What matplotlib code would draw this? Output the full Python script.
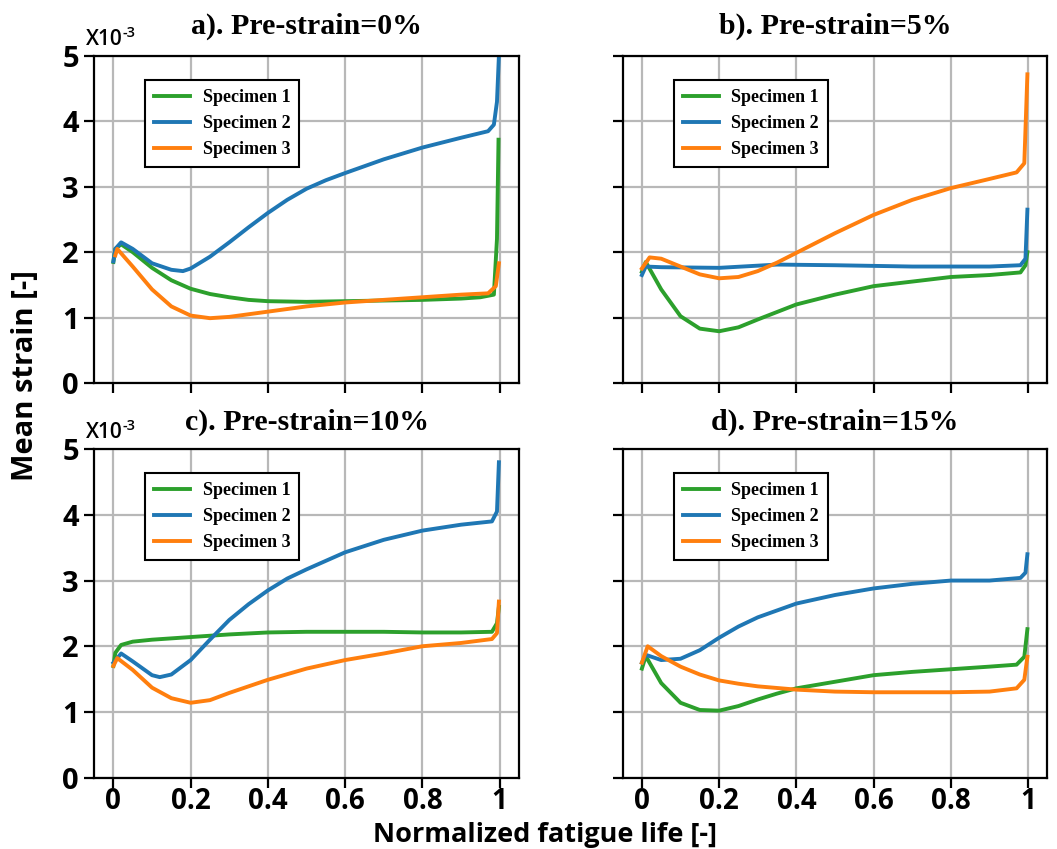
import numpy as np
import matplotlib
matplotlib.use('Agg')
import matplotlib.pyplot as plt

## values (mean strain in units of 1e-3)

# a). Pre-strain=0%
a_x1 = [0, 0.005, 0.02, 0.05, 0.1, 0.15, 0.2, 0.25, 0.3, 0.35, 0.4, 0.5, 0.6, 0.7, 0.8, 0.9, 0.95, 0.985, 0.993, 0.997]
a_y1 = [1.85, 2.05, 2.12, 2.0, 1.76, 1.57, 1.44, 1.36, 1.31, 1.27, 1.25, 1.24, 1.25, 1.26, 1.27, 1.29, 1.31, 1.35, 2.2, 3.72]
a_x2 = [0, 0.005, 0.02, 0.05, 0.1, 0.15, 0.18, 0.2, 0.25, 0.3, 0.35, 0.4, 0.45, 0.5, 0.55, 0.6, 0.7, 0.8, 0.9, 0.97, 0.985, 0.993, 0.998]
a_y2 = [1.86, 2.05, 2.15, 2.05, 1.83, 1.73, 1.71, 1.75, 1.93, 2.15, 2.38, 2.6, 2.8, 2.97, 3.1, 3.21, 3.42, 3.6, 3.75, 3.85, 3.95, 4.3, 5.0]
a_x3 = [0.005, 0.01, 0.05, 0.1, 0.15, 0.2, 0.25, 0.3, 0.4, 0.5, 0.6, 0.7, 0.8, 0.9, 0.97, 0.99, 0.998]
a_y3 = [1.95, 2.05, 1.78, 1.43, 1.17, 1.03, 0.99, 1.01, 1.09, 1.17, 1.23, 1.27, 1.31, 1.35, 1.37, 1.48, 1.83]

# b). Pre-strain=5%
b_x1 = [0, 0.01, 0.05, 0.1, 0.15, 0.2, 0.25, 0.3, 0.4, 0.5, 0.6, 0.7, 0.8, 0.9, 0.98, 0.993, 0.998]
b_y1 = [1.7, 1.85, 1.43, 1.02, 0.83, 0.79, 0.85, 0.97, 1.2, 1.35, 1.48, 1.55, 1.62, 1.65, 1.69, 1.8, 2.0]
b_x2 = [0, 0.01, 0.05, 0.2, 0.35, 0.5, 0.7, 0.9, 0.98, 0.993, 0.998]
b_y2 = [1.65, 1.78, 1.77, 1.76, 1.81, 1.8, 1.78, 1.78, 1.8, 1.9, 2.65]
b_x3 = [0, 0.02, 0.05, 0.1, 0.15, 0.2, 0.25, 0.3, 0.35, 0.4, 0.5, 0.6, 0.7, 0.8, 0.9, 0.97, 0.99, 0.998]
b_y3 = [1.75, 1.92, 1.9, 1.78, 1.66, 1.6, 1.62, 1.71, 1.84, 1.99, 2.29, 2.57, 2.8, 2.98, 3.12, 3.22, 3.36, 4.72]

# c). Pre-strain=10%
c_x1 = [0, 0.005, 0.02, 0.05, 0.1, 0.2, 0.3, 0.4, 0.5, 0.6, 0.7, 0.8, 0.9, 0.98, 0.993, 0.998]
c_y1 = [1.7, 1.9, 2.02, 2.07, 2.1, 2.14, 2.18, 2.21, 2.22, 2.22, 2.22, 2.21, 2.21, 2.22, 2.35, 2.6]
c_x2 = [0, 0.02, 0.05, 0.1, 0.12, 0.15, 0.2, 0.25, 0.3, 0.35, 0.4, 0.45, 0.5, 0.6, 0.7, 0.8, 0.9, 0.98, 0.993, 0.998]
c_y2 = [1.75, 1.89, 1.77, 1.56, 1.53, 1.57, 1.79, 2.1, 2.4, 2.64, 2.85, 3.03, 3.17, 3.43, 3.62, 3.76, 3.85, 3.9, 4.05, 4.8]
c_x3 = [0, 0.01, 0.05, 0.1, 0.15, 0.2, 0.25, 0.3, 0.4, 0.5, 0.6, 0.7, 0.8, 0.9, 0.98, 0.993, 0.998]
c_y3 = [1.7, 1.82, 1.64, 1.37, 1.21, 1.14, 1.18, 1.29, 1.49, 1.66, 1.79, 1.89, 2.0, 2.05, 2.11, 2.2, 2.68]

# d). Pre-strain=15%
d_x1 = [0, 0.01, 0.05, 0.1, 0.15, 0.2, 0.25, 0.3, 0.35, 0.4, 0.5, 0.6, 0.7, 0.8, 0.9, 0.97, 0.99, 0.998]
d_y1 = [1.66, 1.85, 1.44, 1.14, 1.03, 1.02, 1.09, 1.19, 1.28, 1.36, 1.46, 1.56, 1.61, 1.65, 1.69, 1.72, 1.84, 2.26]
d_x2 = [0, 0.01, 0.05, 0.1, 0.15, 0.2, 0.25, 0.3, 0.4, 0.5, 0.6, 0.7, 0.8, 0.9, 0.98, 0.993, 0.998]
d_y2 = [1.75, 1.87, 1.79, 1.81, 1.94, 2.13, 2.3, 2.44, 2.65, 2.78, 2.88, 2.95, 3.0, 3.0, 3.04, 3.12, 3.4]
d_x3 = [0, 0.015, 0.05, 0.1, 0.15, 0.2, 0.25, 0.3, 0.4, 0.5, 0.6, 0.7, 0.8, 0.9, 0.97, 0.99, 0.998]
d_y3 = [1.75, 2.0, 1.85, 1.69, 1.57, 1.48, 1.43, 1.39, 1.34, 1.31, 1.3, 1.3, 1.3, 1.31, 1.36, 1.49, 1.84]

titles = ['a). Pre-strain=0%', 'b). Pre-strain=5%', 'c). Pre-strain=10%', 'd). Pre-strain=15%']
labels = ['Specimen 1', 'Specimen 2', 'Specimen 3']
colors = ['#2ca02c', '#1f77b4', '#ff7f0e']
xticks = [0, 0.2, 0.4, 0.6, 0.8, 1]
xticklabels = ['0', '0.2', '0.4', '0.6', '0.8', '1']
yticks = [0, 1, 2, 3, 4, 5]

panels = [
    [(a_x1, a_y1), (a_x2, a_y2), (a_x3, a_y3)],
    [(b_x1, b_y1), (b_x2, b_y2), (b_x3, b_y3)],
    [(c_x1, c_y1), (c_x2, c_y2), (c_x3, c_y3)],
    [(d_x1, d_y1), (d_x2, d_y2), (d_x3, d_y3)],
]

sans = 'Open Sans'
serif = 'Liberation Serif'

fig = plt.figure(figsize=(10.57, 8.49), dpi=100)
# axes boxes [left, bottom, width, height] in figure fractions
boxes = [[0.089, 0.549, 0.402, 0.385],
         [0.589, 0.549, 0.402, 0.385],
         [0.089, 0.084, 0.402, 0.387],
         [0.589, 0.084, 0.402, 0.387]]

for i, (box, series) in enumerate(zip(boxes, panels)):
    ax = fig.add_axes(box)
    for (x, y), c, lab in zip(series, colors, labels):
        ax.plot(x, y, color=c, lw=2.8, label=lab)
    ax.set_xlim(-0.05, 1.05)
    ax.set_ylim(0, 5)
    ax.set_xticks(xticks)
    ax.set_yticks(yticks)
    ax.grid(True, color='#b8b8b8', lw=1.6)
    ax.set_axisbelow(True)
    for s in ax.spines.values():
        s.set_linewidth(1.6)
    ax.tick_params(direction='out', length=7, width=1.6)
    ax.tick_params(axis='x', pad=0)
    ax.tick_params(axis='y', pad=4)
    if i >= 2:
        ax.set_xticklabels(xticklabels, fontfamily=sans, fontweight='bold', fontsize=20)
    else:
        ax.set_xticklabels([])
    if i % 2 == 0:
        ax.set_yticklabels([str(t) for t in yticks], fontfamily=sans, fontweight='bold', fontsize=21)
        ax.text(-0.019, 1.034, 'X10', transform=ax.transAxes, ha='left', va='baseline',
                fontfamily=sans, fontweight='semibold', fontsize=15)
        ax.text(0.068, 1.058, '-3', transform=ax.transAxes, ha='left', va='baseline',
                fontfamily=sans, fontweight='semibold', fontsize=10.5)
    else:
        ax.set_yticklabels([])
    ax.set_title(titles[i], fontfamily=serif, fontweight='bold', fontsize=21.5,
                 pad=16 if i < 2 else 14)
    leg = ax.legend(loc='upper left', bbox_to_anchor=(0.12, 0.927), borderaxespad=0,
                    fancybox=False, edgecolor='black', framealpha=1, handlelength=2.0,
                    handletextpad=0.7, labelspacing=0.5, borderpad=0.5,
                    prop={'family': serif, 'weight': 'bold', 'size': 13})
    leg.get_frame().set_linewidth(1.5)

fig.text(0.024, 0.558, 'Mean strain [-]', rotation=90, ha='center', va='center',
         fontfamily=sans, fontweight='bold', fontsize=21)
fig.text(0.516, 0.001, 'Normalized fatigue life [-]', ha='center', va='bottom',
         fontfamily=sans, fontweight='bold', fontsize=19.5)

fig.savefig('out.png', dpi=100)
